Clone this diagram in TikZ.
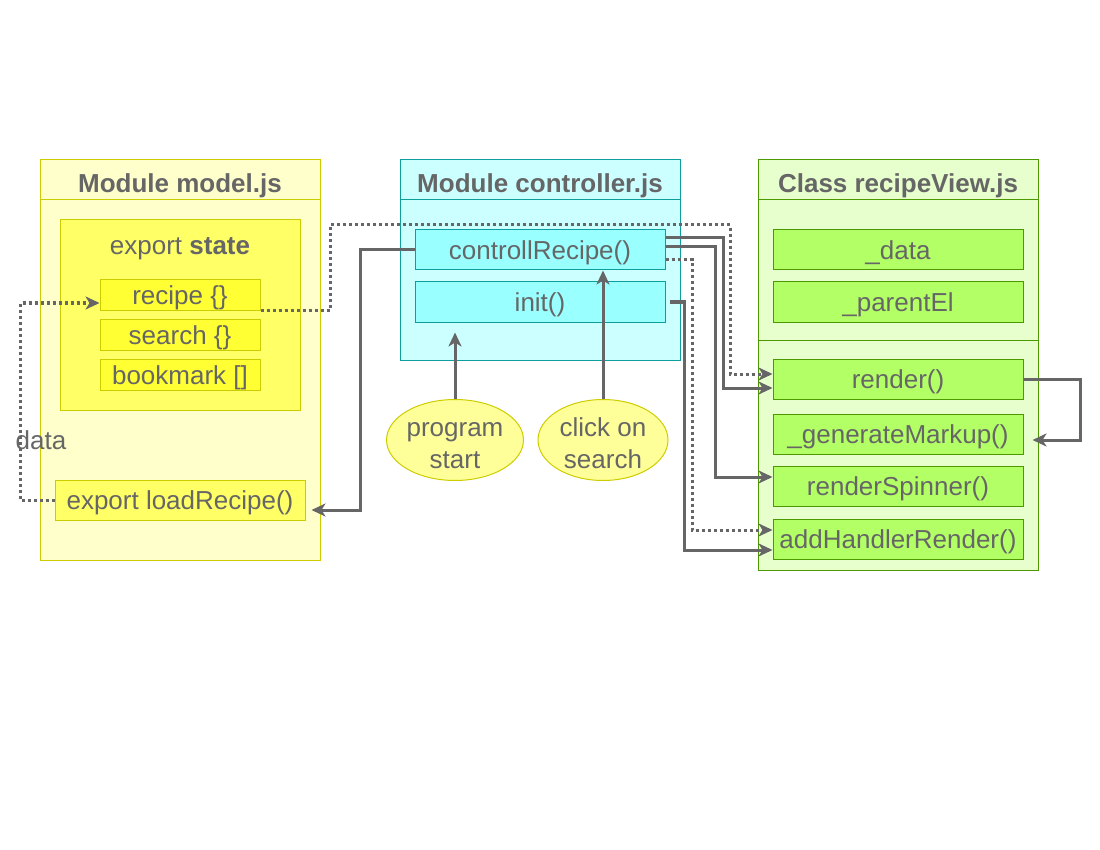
\documentclass[tikz,border=0pt]{standalone}
\usepackage{fontspec}
\setmainfont{Liberation Sans}
\usetikzlibrary{arrows.meta,shapes.geometric}

\definecolor{txt}{HTML}{666666}
\definecolor{ylwline}{HTML}{CCCC00}
\definecolor{ylwbg}{HTML}{FFFFCC}
\definecolor{ylwbox}{HTML}{FFFF66}
\definecolor{ylwitem}{HTML}{FFFF33}
\definecolor{ylwoval}{HTML}{FFFF99}
\definecolor{cyanline}{HTML}{0E9E9E}
\definecolor{cyanbg}{HTML}{CCFFFF}
\definecolor{cyanbox}{HTML}{99FFFF}
\definecolor{grnline}{HTML}{4D9900}
\definecolor{grnbg}{HTML}{E6FFCC}
\definecolor{grnbox}{HTML}{B3FF66}

\tikzset{
    lbl/.style={text=txt, font=\fontsize{26}{32}\selectfont, inner sep=0pt, text height=25pt, text depth=5.5pt},
    ttl/.style={lbl, font=\fontsize{26}{32}\selectfont\bfseries},
    item/.style={lbl, draw, line width=1pt, minimum width=250, minimum height=40},
    stateitem/.style={item, draw=ylwline, fill=ylwitem, minimum width=160, minimum height=30},
    ctrlitem/.style={item, draw=cyanline, fill=cyanbox},
    viewitem/.style={item, draw=grnline, fill=grnbox},
    oval/.style={text=txt, font=\fontsize{26}{32}\selectfont, inner sep=0pt, ellipse, draw=ylwline, fill=ylwoval, line width=1pt, minimum width=130, minimum height=80, align=center},
    flow/.style={draw=txt, line width=3pt, -{Stealth[length=14pt,width=13pt,inset=4pt]}},
    dots/.style={flow, dash pattern=on 3pt off 3pt},
}

\begin{document}
\begin{tikzpicture}[x=1pt, y=-1pt]

    \useasboundingbox (0,0) rectangle (1100,850);

    %model.js
    \draw[line width=1pt, draw=ylwline, fill=ylwbg] (40,160) rectangle (320,560);
    \draw[line width=1pt, draw=ylwline] (40,200) -- (320,200);
    \node[ttl] (modeltitle) at (180,183) {Module model.js};
    \draw[line width=1pt, draw=ylwline, fill=ylwbox] (60,220) rectangle (300,410);
    \node[lbl] (state) at (180,245) {export \textbf{state}};
    \node[stateitem] (recipe) at (180,295) {recipe \{\}};
    \node[stateitem] (search) at (180,335) {search \{\}};
    \node[stateitem] (bookmark) at (180,375) {bookmark []};
    \node[item, draw=ylwline, fill=ylwbox] (load) at (180,500) {export loadRecipe()};
    \node[lbl] (data) at (41,440) {data};

    %controller.js
    \draw[line width=1pt, draw=cyanline, fill=cyanbg] (400,160) rectangle (680,360);
    \draw[line width=1pt, draw=cyanline] (400,200) -- (680,200);
    \node[ttl] (ctrltitle) at (540,183) {Module controller.js};
    \node[ctrlitem] (ctrl) at (540,250) {controllRecipe()};
    \node[ctrlitem] (init) at (540,302) {init()};

    \node[oval] (ps) at (455,440) {\rule{0pt}{25pt}program\\start};
    \node[oval] (cs) at (603,440) {\rule{0pt}{25pt}click on\\search};

    %recipeView.js
    \draw[line width=1pt, draw=grnline, fill=grnbg] (758,160) rectangle (1038,570);
    \draw[line width=1pt, draw=grnline] (758,200) -- (1038,200);
    \draw[line width=1pt, draw=grnline] (758,340) -- (1038,340);
    \node[ttl] (viewtitle) at (898,183) {Class recipeView.js};
    \node[viewitem] (datafield) at (898,250) {\_data};
    \node[viewitem] (parent) at (898,302) {\_parentEl};
    \node[viewitem] (render) at (898,379) {render()};
    \node[viewitem] (markup) at (898,434) {\_generateMarkup()};
    \node[viewitem] (spinner) at (898,486) {renderSpinner()};
    \node[viewitem] (handler) at (898,539) {addHandlerRender()};

    %bends
    \coordinate (B1) at (330,225);
    \coordinate (B2) at (730,374);
    \coordinate (B3) at (360,510);
    \coordinate (B4) at (20,303);
    \coordinate (B5) at (723,388);
    \coordinate (B6) at (715,477);
    \coordinate (B7) at (692,530);
    \coordinate (B8) at (684,550);
    \coordinate (B9) at (1080,440);

    \draw[dots] (recipe.south east) -| (B1) -| (B2) -- (B2 -| render.west);
    \draw[flow, shorten >=6pt] (ctrl.west) -| (B3) -- (B3 -| load.east);
    \draw[dots] (load.west) -| (B4) -- (B4 -| recipe.west);
    \draw[flow] (ps.north) -- ([yshift=-10pt]ps.north |- init.south);
    \draw[flow] (cs.north) -- (cs.north |- ctrl.south);
    \draw[flow] ([yshift=12pt]ctrl.east) -| (B5) -- (B5 -| render.west);
    \draw[flow] ([yshift=3pt]ctrl.east) -| (B6) -- (B6 -| spinner.west);
    \draw[dots] ([yshift=-10pt]ctrl.east) -| (B7) -- (B7 -| handler.west);
    \draw[flow] ([xshift=4pt]init.east) -| (B8) -- (B8 -| handler.west);
    \draw[flow, shorten >=9pt] (render.east) -| (B9) -- (B9 -| markup.east);

\end{tikzpicture}
\end{document}
